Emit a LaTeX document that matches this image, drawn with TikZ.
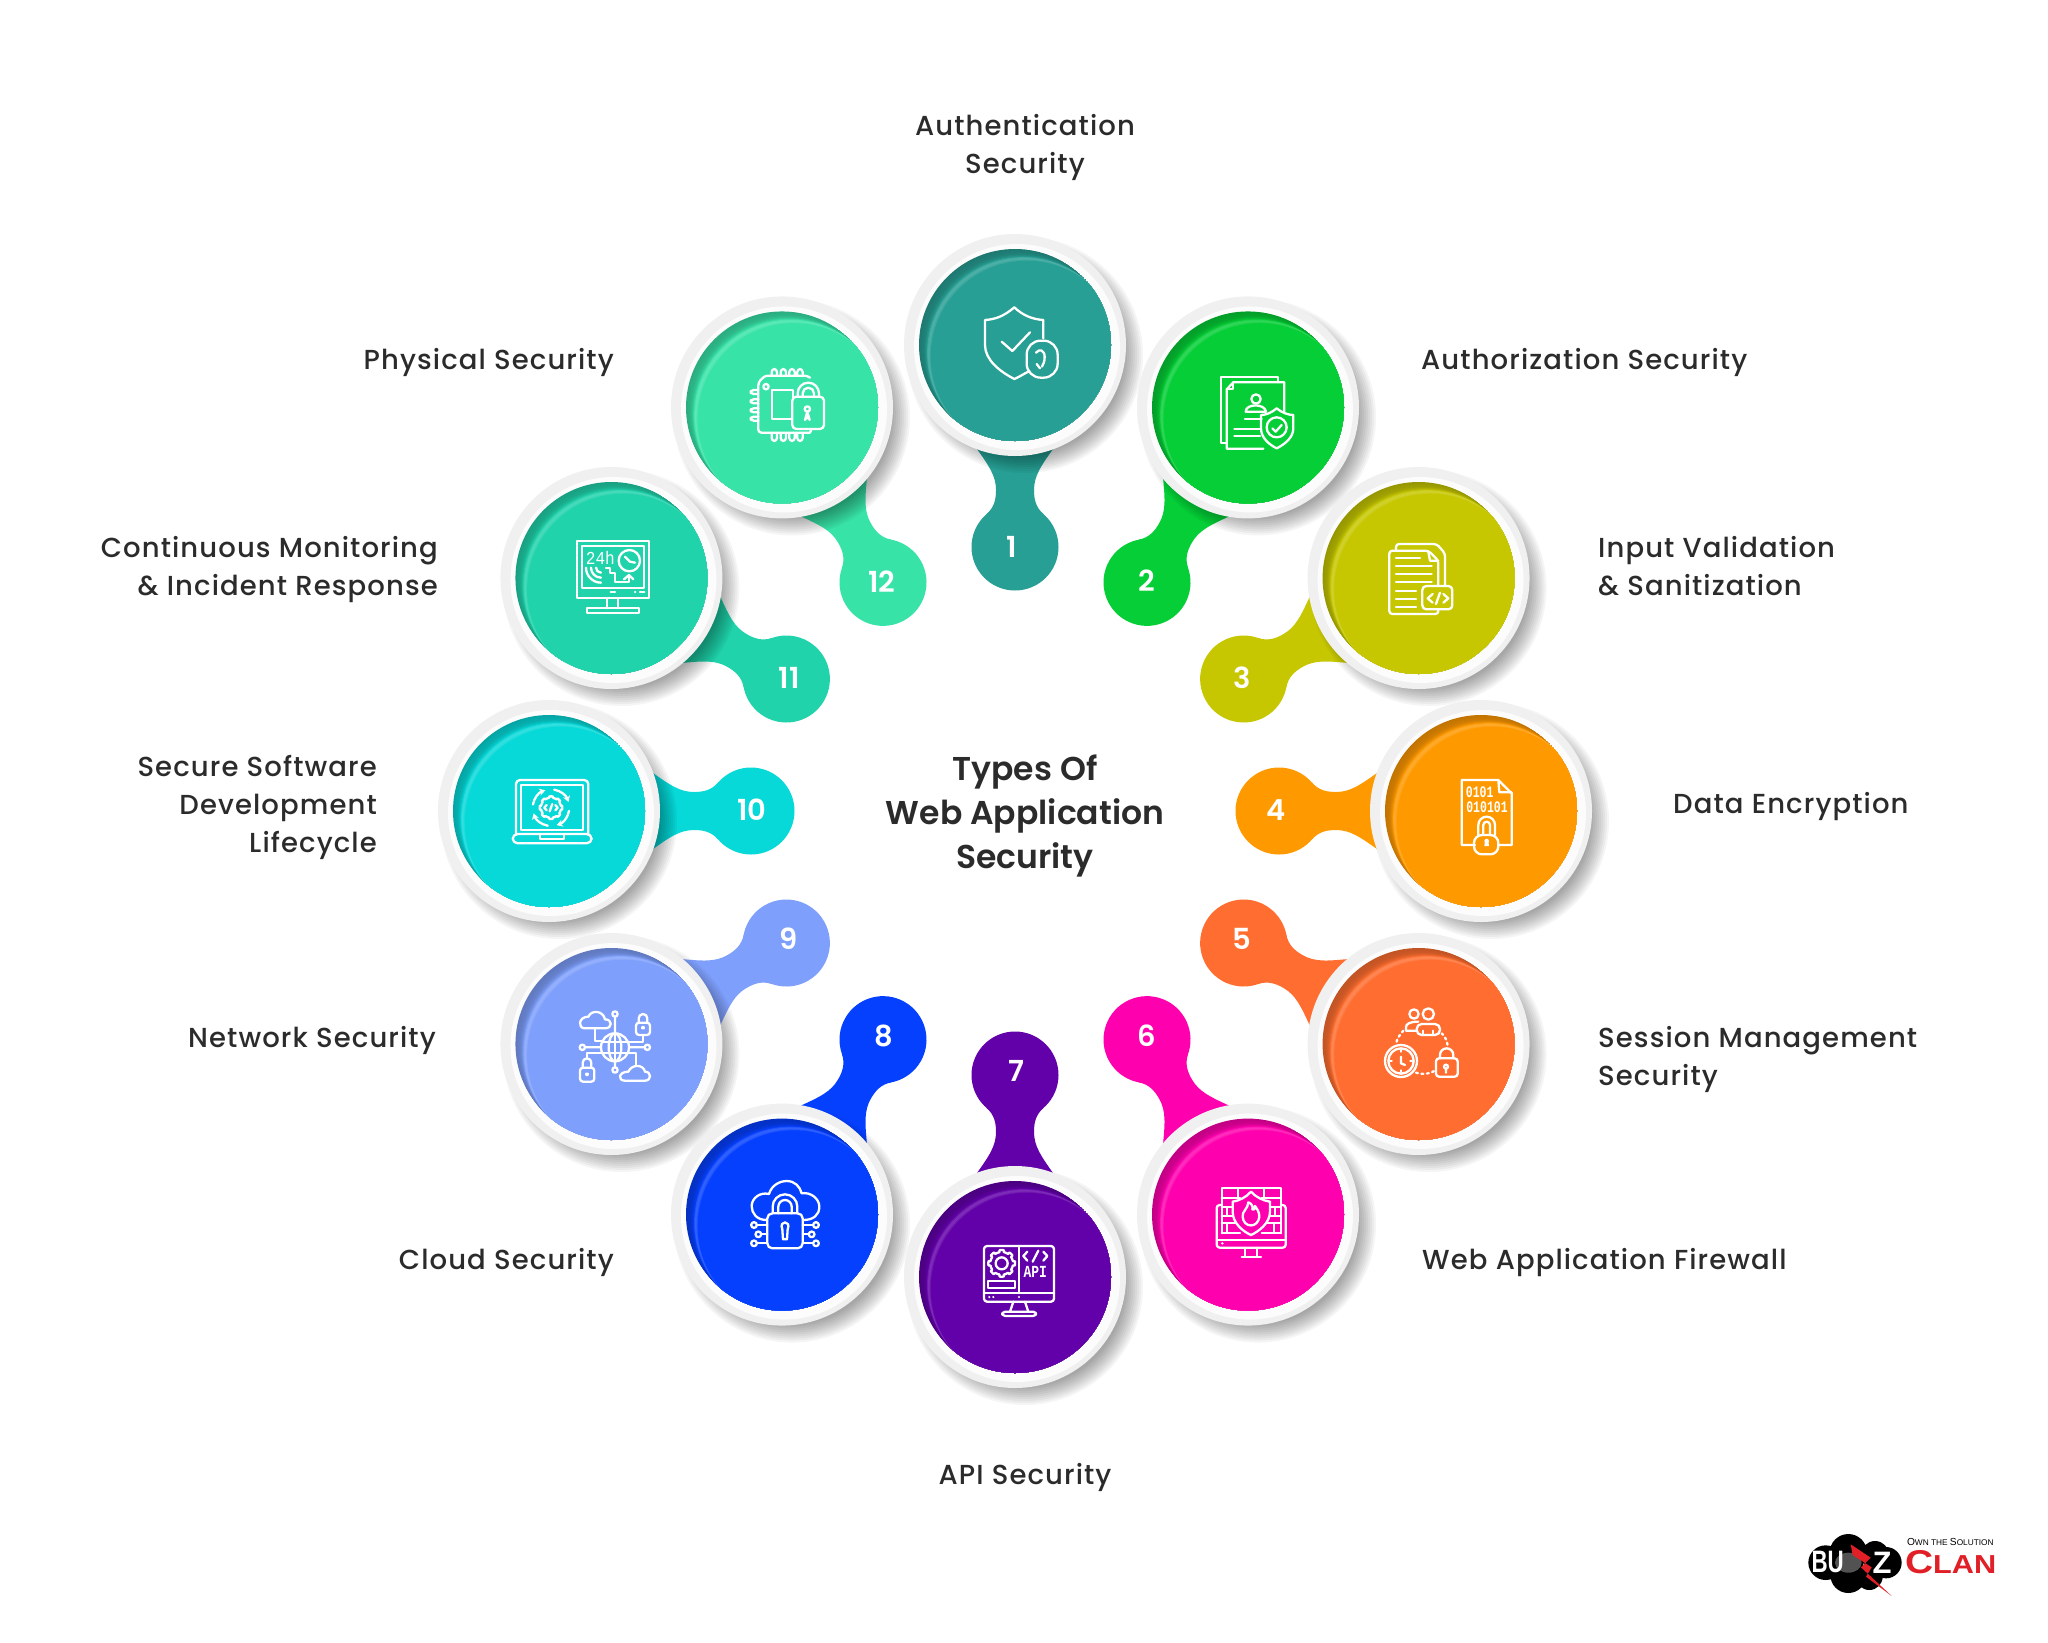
\documentclass[tikz,border=0pt]{standalone}
\usepackage{fontspec}
\usetikzlibrary{arrows.meta,calc}
\newfontfamily\labfont[LetterSpace=4]{Poppins Medium}
\newfontfamily\titfont{Poppins SemiBold}
\newfontfamily\numfont{Poppins SemiBold}
\newfontfamily\logofont{Liberation Sans}
\newfontfamily\icofont{Liberation Mono}
\definecolor{c1}{HTML}{279F94}
\definecolor{c2}{HTML}{05CE36}
\definecolor{c3}{HTML}{C6C700}
\definecolor{c4}{HTML}{FF9900}
\definecolor{c5}{HTML}{FF6E30}
\definecolor{c6}{HTML}{FF00AE}
\definecolor{c7}{HTML}{6200A9}
\definecolor{c8}{HTML}{0540FF}
\definecolor{c9}{HTML}{7E9FFB}
\definecolor{c10}{HTML}{07D8D8}
\definecolor{c11}{HTML}{20D3AB}
\definecolor{c12}{HTML}{38E3A8}
\definecolor{ink}{HTML}{2B2B2B}
\definecolor{logored}{HTML}{E01F26}
\tikzset{
  ic/.style={draw=white,line width=2.3pt,line join=round,line cap=round},
  lab/.style={font=\labfont\fontsize{27.5}{38}\selectfont,text=ink,inner sep=0pt},
  tit/.style={font=\titfont\fontsize{33}{44}\selectfont,text=ink,inner sep=0pt,align=center},
  num/.style={font=\numfont\fontsize{29}{29}\selectfont,text=white,inner sep=0pt},
}
\begin{document}
\begin{tikzpicture}[x=1pt,y=1pt]
\useasboundingbox (0,0) rectangle (2048,-1642);
\fill[white] (0,0) rectangle (2048,-1642);
% necks and badges
\foreach \i [evaluate=\i as \a using {90-30*(\i-1)}] in {1,...,12}{
  \begin{scope}[shift={(1015,-811)},rotate=\a]
    \fill[c\i] (264,0) circle [radius=43.5];
    \fill[c\i] (296.8,28.5) .. controls (304,20.5) and (312,19) .. (321,19)
       .. controls (335,19) and (345,26) .. (362,38) -- (378,38) -- (378,-38) -- (362,-38)
       .. controls (345,-26) and (335,-19) .. (321,-19)
       .. controls (312,-19) and (304,-20.5) .. (296.8,-28.5) -- cycle;
  \end{scope}
}
% shadows
\foreach \i [evaluate=\i as \a using {90-30*(\i-1)}] in {1,...,12}{
  \begin{scope}[shift={(1015,-811)},shift={(\a:466)}]
    \foreach \r in {100,102,...,118}
      \fill[black,opacity=0.04] (10,-10) circle [radius=\r];
  \end{scope}
}
% discs
\foreach \i [evaluate=\i as \a using {90-30*(\i-1)}] in {1,...,12}{
  \begin{scope}[shift={(1015,-811)},shift={(\a:466)}]
    \fill[white!94!black] (0,0) circle [radius=111];
    \fill[white!99!black] (2,-2) circle [radius=103];
    \begin{scope}
      \clip (0,0) circle [radius=96];
      \foreach \k/\m/\o in {0/76/black,1/77/black,2/78/black,3/79/black,4/80/black,5/82/black,6/85/black,7/90/black,8/96/black,9/90/white,10/82/white,11/84/white,12/90/white,13/100/white}
        \fill[c\i!\m!\o] (\k*0.9,-\k*0.9) circle [radius=96];
    \end{scope}
  \end{scope}
}
% numbers
\foreach \i/\px/\py in {1/1012/-547,2/1147/-581,3/1242/-678,4/1276/-810,5/1242/-939,6/1147/-1036,7/1016/-1071,8/884/-1036,9/789/-939,10/752/-810,11/789/-678,12/882/-582}{
  \node[num] (n\i) at (\px,\py) {\i};
}
% labels
\node[lab,align=center] (l1) at (1025,-147) {Authentication\\Security};
\node[lab,anchor=west] (l2) at (1421,-362) {Authorization Security};
\node[lab,anchor=west,align=left] (l3) at (1598,-566) {Input Validation\\\& Sanitization};
\node[lab,anchor=west] (l4) at (1673,-807) {Data Encryption};
\node[lab,anchor=west,align=left] (l5) at (1598,-1059) {Session Management\\Security};
\node[lab,anchor=west] (l6) at (1422,-1262) {Web Application Firewall};
\node[lab] (l7) at (1025,-1477) {API Security};
\node[lab,anchor=east] (l8) at (614,-1262) {Cloud Security};
\node[lab,anchor=east] (l9) at (436,-1040) {Network Security};
\node[lab,anchor=east,align=right] (l10) at (377,-807) {Secure Software\\Development\\Lifecycle};
\node[lab,anchor=east,align=right] (l11) at (438,-570) {Continuous Monitoring\\\& Incident Response};
\node[lab,anchor=east] (l12) at (614,-362) {Physical Security};
\node[tit] (title) at (1025,-816) {Types Of\\Web Application\\Security};

% icon 1
\begin{scope}[shift={(880,-220)},x=0.3333pt,y=-0.3333pt,ic]
  \draw (445,455) .. controls (430,462) and (420,470) .. (403,477) .. controls (360,455) and (315,420) .. (315,375) -- (315,300) .. controls (345,298) and (370,290) .. (403,262) .. controls (430,288) and (460,298) .. (490,300) -- (490,355);
  \draw (365,365) -- (397,393) -- (450,337);
  \draw[rounded corners=14pt] (440,362) rectangle (533,473);
  \draw (468,398) .. controls (478,385) and (495,390) .. (494,412) .. controls (494,425) and (490,432) .. (486,440);
  \draw (470,432) -- (480,445);
\end{scope}
% icon 2
\begin{scope}[shift={(1180,-350)},x=0.3333pt,y=-0.3333pt,ic]
  \draw (295,97) -- (295,80) -- (123,80) -- (123,280) -- (140,280);
  \draw (250,296) -- (140,296) -- (140,118) -- (160,97) -- (313,97) -- (313,185);
  \draw (160,97) -- (160,118) -- (140,118);
  \draw (228,147) circle [radius=14];
  \draw (197,185) .. controls (197,160) and (255,160) .. (258,185) -- cycle;
  \draw (195,207) -- (245,207);
  \draw (163,238) -- (240,238) (163,258) -- (240,258);
  \draw (290,175) .. controls (305,188) and (325,195) .. (340,195) -- (340,235) .. controls (340,265) and (310,285) .. (290,295) .. controls (270,285) and (243,265) .. (243,235) -- (243,195) .. controls (258,195) and (275,188) .. (290,175) -- cycle;
  \draw (290,232) circle [radius=30];
  \draw (277,235) -- (287,245) -- (305,225);
\end{scope}
% icon 3
\begin{scope}[shift={(1360,-520)},x=0.3333pt,y=-0.3333pt,ic]
  \draw[rounded corners=3pt] (108,92) -- (108,72) -- (230,72) -- (255,100) -- (255,198);
  \draw[rounded corners=3pt] (235,195) -- (235,122) -- (205,92) -- (88,92) -- (88,282) -- (235,282) -- (235,268);
  \draw (205,95) -- (210,122) -- (235,122);
  \foreach \y/\e in {115/180,138/215,163/215,187/215,212/168,236/168,260/168}
    \draw (108,\y) -- (\e,\y);
  \draw[rounded corners=4pt] (187,198) rectangle (277,268);
  \draw (218,222) -- (203,235) -- (218,248) (250,222) -- (265,235) -- (250,248) (240,218) -- (228,252);
\end{scope}
% icon 4
\begin{scope}[shift={(1420,-760)},x=0.3333pt,y=-0.3333pt,ic]
  \draw (165,255) -- (125,255) -- (125,60) -- (235,60) -- (275,100) -- (275,255) -- (235,255);
  \draw (235,60) -- (238,97) -- (275,97);
  \node[text=white,font=\icofont\bfseries\fontsize{11.5}{11.5}\selectfont,inner sep=0pt,yscale=1.4] (i4a) at (179,97) {0101};
  \node[text=white,font=\icofont\bfseries\fontsize{11.5}{11.5}\selectfont,inner sep=0pt,yscale=1.4] (i4b) at (201,143) {010101};
  \draw[rounded corners=8pt] (162,225) rectangle (235,283);
  \draw (175,225) -- (175,195) arc [start angle=180,end angle=360,radius=25] -- (225,225);
  \draw (190,225) -- (190,195) arc [start angle=180,end angle=360,radius=10] -- (210,225);
  \fill[white] (200,243) circle [radius=7];
  \fill[white] (195,243) -- (205,243) -- (207,258) -- (193,258) -- cycle;
\end{scope}
% icon 5
\begin{scope}[shift={(1380,-1000)},x=0.3333pt,y=-0.3333pt,ic]
  \draw (102,42) circle [radius=14] (145,42) circle [radius=17];
  \draw (108,92) -- (78,92) -- (78,82) .. controls (78,72) and (88,65) .. (115,65);
  \draw[rounded corners=5pt] (110,105) -- (110,72) -- (180,72) -- (180,105) -- cycle;
  \draw (130,105) -- (130,92) (160,105) -- (160,92);
  \draw[dash pattern=on 2pt off 3.5pt] (70,92) .. controls (58,105) and (50,118) .. (48,133);
  \draw[dash pattern=on 2pt off 3.5pt] (185,100) .. controls (195,110) and (202,122) .. (203,138);
  \draw[dash pattern=on 2pt off 3.5pt] (108,218) .. controls (128,225) and (148,222) .. (165,212);
  \draw (63,183) circle [radius=48] (63,183) circle [radius=38];
  \draw (63,170) -- (63,190) -- (75,195);
  \draw (63,150) -- (63,155) (63,211) -- (63,216) (30,183) -- (35,183) (91,183) -- (96,183);
  \draw[rounded corners=3pt] (168,175) rectangle (233,230);
  \draw (180,175) -- (180,165) arc [start angle=180,end angle=360,radius=20] -- (220,175);
  \draw (198,200) circle [radius=6] (198,206) -- (198,218);
\end{scope}
% icon 6
\begin{scope}[shift={(1190,-1170)},x=0.3333pt,y=-0.3333pt,ic]
  \draw (95,190) -- (95,55) -- (272,55) -- (272,190);
  \draw[rounded corners=3pt] (95,105) -- (80,105) -- (80,233) -- (287,233) -- (287,105) -- (272,105);
  \draw (95,190) -- (150,190) (215,190) -- (272,190);
  \draw (80,210) -- (287,210);
  \fill[white] (97,220) circle [radius=4];
  \draw (165,233) -- (165,260) (200,233) -- (200,260) (155,262) -- (213,262);
  \foreach \y/\a/\b in {83/95/150,83/215/272,112/95/128,112/240/272,137/95/128,137/240/272,160/95/135,160/232/272}
    \draw (\a,\y) -- (\b,\y);
  \draw (143,55) -- (143,80) (222,55) -- (222,80) (110,112) -- (110,137) (255,112) -- (255,137) (112,160) -- (112,188) (252,160) -- (252,188);
  \draw (183,65) .. controls (198,82) and (220,92) .. (240,95) -- (240,125) .. controls (240,160) and (205,185) .. (183,195) .. controls (160,185) and (128,160) .. (128,125) -- (128,95) .. controls (148,92) and (168,82) .. (183,65) -- cycle;
  \draw (175,97) .. controls (175,115) and (155,125) .. (158,140) .. controls (160,175) and (205,175) .. (208,140) .. controls (208,125) and (200,115) .. (195,108) .. controls (195,120) and (190,120) .. (187,118) .. controls (190,110) and (185,100) .. (175,97) -- cycle;
\end{scope}
% icon 7
\begin{scope}[shift={(950,-1230)},x=0.3333pt,y=-0.3333pt,ic]
  \draw[rounded corners=3pt] (102,48) rectangle (312,215);
  \draw (207,48) -- (207,190) (102,190) -- (312,190);
  \fill[white] (118,201) circle [radius=3.5] (130,201) circle [radius=3.5] (207,201) circle [radius=3.5];
  \draw (190,215) -- (180,245) (225,215) -- (235,245);
  \draw[rounded corners=3pt] (157,245) rectangle (258,258);
  \draw (155,100) circle [radius=18];
  \draw plot[samples=193,domain=0:360,variable=\t] ({155+(34+6*(cos(8*\t)>0))*cos(\t)},{100+(34+6*(cos(8*\t)>0))*sin(\t)}) -- cycle;
  \draw (115,152) rectangle (195,175);
  \draw (232,65) -- (220,78) -- (232,92) (280,65) -- (292,78) -- (280,92) (265,62) -- (248,95);
  \node[text=white,font=\icofont\bfseries\fontsize{13}{13}\selectfont,inner sep=0pt,yscale=1.3] (i7) at (256,126) {API};
\end{scope}
% icon 8
\begin{scope}[shift={(720,-1170)},x=0.3333pt,y=-0.3333pt,ic]
  \draw (140,150) .. controls (110,150) and (95,130) .. (95,108) .. controls (95,85) and (120,65) .. (147,72) .. controls (155,45) and (180,33) .. (200,33) .. controls (225,33) and (240,50) .. (245,70) .. controls (270,65) and (298,85) .. (298,110) .. controls (298,135) and (280,150) .. (250,150);
  \draw[rounded corners=5pt] (142,130) rectangle (248,235);
  \draw (158,130) -- (158,110) arc [start angle=180,end angle=360,radius=37] -- (232,130);
  \draw (175,130) -- (175,110) arc [start angle=180,end angle=360,radius=20] -- (215,130);
  \draw (187,178) .. controls (175,150) and (215,150) .. (203,178) -- (201,208) -- (189,208) -- cycle;
  \draw (102,165) circle [radius=8.5] (115,193) circle [radius=8.5] (102,220) circle [radius=8.5];
  \draw (288,165) circle [radius=8.5] (275,193) circle [radius=8.5] (288,220) circle [radius=8.5];
  \draw (111,165) -- (142,165) (124,193) -- (142,193) (111,220) -- (142,220);
  \draw (248,165) -- (279,165) (248,193) -- (266,193) (248,220) -- (279,220);
\end{scope}
% icon 9
\begin{scope}[shift={(550,-990)},x=0.3333pt,y=-0.3333pt,ic]
  \draw (195,172) circle [radius=42];
  \draw (195,172) ellipse [x radius=19,y radius=42];
  \draw (195,130) -- (195,214) (157,155) -- (233,155) (157,190) -- (233,190);
  \draw (105,115) -- (165,115) .. controls (188,115) and (188,88) .. (165,88) .. controls (160,62) and (125,58) .. (115,80) .. controls (85,80) and (82,115) .. (105,115) -- cycle;
  \draw (135,115) -- (135,152) -- (158,152);
  \draw (195,72) circle [radius=8] (195,80) -- (195,130);
  \draw[rounded corners=3pt] (258,98) rectangle (300,135);
  \draw (266,98) -- (266,85) arc [start angle=180,end angle=360,radius=13] -- (292,98);
  \draw (279,113) circle [radius=3];
  \draw (279,135) -- (279,155) -- (233,155);
  \draw (97,172) circle [radius=8] (105,172) -- (153,172);
  \draw (292,172) circle [radius=8] (284,172) -- (237,172);
  \draw[rounded corners=3pt] (90,233) rectangle (133,275);
  \draw (98,233) -- (98,218) arc [start angle=180,end angle=360,radius=13] -- (124,233);
  \draw (111,253) circle [radius=3];
  \draw (111,205) -- (111,190) -- (158,190);
  \draw (195,240) circle [radius=8] (195,214) -- (195,232);
  \draw (215,190) -- (258,190) -- (258,225);
  \draw (225,272) -- (285,272) .. controls (305,272) and (305,245) .. (285,245) .. controls (280,222) and (245,222) .. (235,245) .. controls (205,245) and (202,272) .. (225,272) -- cycle;
\end{scope}
% icon 10
\begin{scope}[shift={(490,-760)},x=0.3333pt,y=-0.3333pt,ic]
  \draw[rounded corners=4pt] (78,222) -- (78,60) -- (295,60) -- (295,222);
  \draw (93,210) rectangle (280,75);
  \draw[rounded corners=5pt] (68,222) rectangle (305,250);
  \draw (150,222) -- (150,238) -- (222,238) -- (222,222);
  \draw plot[samples=121,domain=0:360,variable=\t] ({183+(30+4*(cos(8*\t)>0))*cos(\t)},{143+(30+4*(cos(8*\t)>0))*sin(\t)}) -- cycle;
  \draw (170,135) -- (163,143) -- (170,151) (196,135) -- (203,143) -- (196,151) (187,132) -- (179,154);
  \foreach \s in {10,100,190,280}
    \draw[-{Stealth[length=6pt,width=7pt]}] ($(183,143)+(\s:55)$) arc [start angle=\s,end angle=\s+62,radius=55];
\end{scope}
% icon 11
\begin{scope}[shift={(550,-520)},x=0.3333pt,y=-0.3333pt,ic]
  \draw (80,62) rectangle (298,235);
  \draw (95,78) rectangle (283,205);
  \draw (182,217) -- (195,217) (255,217) -- (256,217) (270,217) -- (283,217);
  \draw (172,235) -- (172,265) (205,235) -- (205,265);
  \draw (110,265) rectangle (268,280);
  \node[text=white,font=\icofont\fontsize{14}{14}\selectfont,inner sep=0pt,xscale=1.15,yscale=1.3] (i11) at (151,113) {24h};
  \draw (238,122) circle [radius=32];
  \draw (225,110) -- (240,125) -- (255,128);
  \foreach \r in {15,30,45}
    \draw ($(153,143)+(180:\r)$) arc [start angle=180,end angle=90,radius=\r];
  \draw (168,143) -- (180,143) -- (180,160) -- (195,160) -- (195,187) -- (237,187) -- (237,170);
  \draw (222,178) -- (237,165) -- (250,178);
\end{scope}
% icon 12
\begin{scope}[shift={(670,-340)},x=0.3333pt,y=-0.3333pt,ic]
  \draw[rounded corners=3pt] (420,113) -- (412,107) -- (285,107) -- (265,127) -- (265,278) -- (370,278);
  \draw (425,267) -- (420,278) -- (370,278);
  \draw (307,150) rectangle (370,238);
  \draw (288,140) circle [radius=8];
  \foreach \p in {305,332,358,382}{
    \draw[rounded corners=3pt] (\p,107) -- (\p,87) -- (\p+16,87) -- (\p+16,107);
    \draw[rounded corners=3pt] (\p,280) -- (\p,303) -- (\p+16,303) -- (\p+16,280);
  }
  \foreach \p in {150,178,205,230}
    \draw[rounded corners=3pt] (265,\p) -- (242,\p) -- (242,\p+12) -- (265,\p+12);
  \draw[rounded corners=4pt,fill=c12] (367,170) rectangle (462,267);
  \draw (383,170) -- (383,160) arc [start angle=180,end angle=360,radius=32] -- (447,170);
  \draw (398,170) -- (398,160) arc [start angle=180,end angle=360,radius=17] -- (432,170);
  \draw (412,207) circle [radius=8];
  \draw (405,240) .. controls (405,232) and (420,232) .. (419,240) -- (412,215) -- cycle;
\end{scope}

% logo
\begin{scope}[shift={(1780,-1510)},x=0.3333pt,y=-0.3333pt]
  \fill[black] (137,158) circle [radius=52] (205,128) circle [radius=56] (285,135) circle [radius=42] (318,158) circle [radius=47] (205,195) circle [radius=54] (268,200) circle [radius=40];
  \fill[white!32!black] (205,158) ellipse [x radius=40,y radius=30];
  \node[inner sep=0pt,text=white,font=\logofont\bfseries\fontsize{31}{31}\selectfont,anchor=center,xscale=0.72] (logoa) at (143,157) {BU};
  \node[inner sep=0pt,text=white,font=\logofont\bfseries\fontsize{31}{31}\selectfont,anchor=center] (logob) at (306,157) {Z};
  \fill[logored] (212,103) -- (272,143) -- (243,172) -- (335,258) -- (258,200) -- (275,172) -- (218,135) -- cycle;
  \node[inner sep=0pt,text=logored,font=\logofont\bfseries\fontsize{33}{33}\selectfont,xscale=1.18] (logoc) at (512,157) {C\fontsize{26}{26}\selectfont LAN};
  \node[inner sep=0pt,text=black,font=\logofont\fontsize{10.2}{10.2}\selectfont] (logod) at (511,97) {O\fontsize{8.3}{8.3}\selectfont WN THE \fontsize{10.2}{10.2}\selectfont S\fontsize{8.3}{8.3}\selectfont OLUTION};
\end{scope}
\end{tikzpicture}
\end{document}
